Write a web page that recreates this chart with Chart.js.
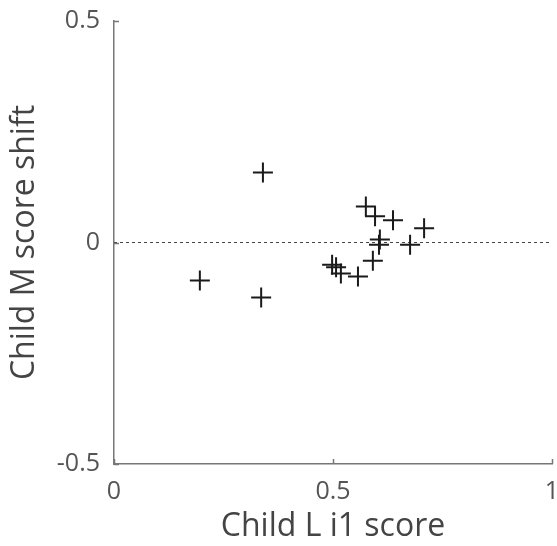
<!DOCTYPE html>
<html>
<head>
<meta charset="utf-8">
<script src="https://cdn.jsdelivr.net/npm/chart.js@4/dist/chart.umd.min.js"></script>
<style>
html,body{margin:0;padding:0;background:#fff;}
#wrap{width:557px;height:546px;position:relative;}
</style>
</head>
<body>
<div id="wrap"><canvas id="c" width="557" height="546"></canvas></div>
<script>
const xValues = [0.196, 0.340, 0.336, 0.498, 0.507, 0.518, 0.557, 0.591, 0.575, 0.596, 0.637, 0.708, 0.607, 0.605, 0.676];
const yValues = [-0.086, 0.158, -0.124, -0.050, -0.056, -0.070, -0.077, -0.041, 0.081, 0.059, 0.050, 0.032, 0.007, -0.005, -0.005];
const refLineX = [0, 1];
const refLineY = [0, 0];
const xTicks = [0, 0.5, 1];
const yTicks = [-0.5, 0, 0.5];
const xTitle = 'Child L i1 score';
const yTitle = 'Child M score shift';

const points = xValues.map((x, i) => ({x: x, y: yValues[i]}));
const ref = refLineX.map((x, i) => ({x: x, y: refLineY[i]}));

const zeroPad = s => {
  s.paddingLeft = 0; s.paddingRight = 0; s.paddingTop = 0; s.paddingBottom = 0;
};

const tickPlugin = {
  id: 'innerTicks',
  afterDraw(chart) {
    const ctx = chart.ctx;
    const xs = chart.scales.x, ys = chart.scales.y;
    const a = chart.chartArea;
    ctx.save();
    ctx.strokeStyle = '#777';
    ctx.lineWidth = 1.5;
    ctx.beginPath();
    xTicks.forEach(v => {
      const px = Math.round(xs.getPixelForValue(v)) + 0.5;
      ctx.moveTo(px, a.bottom); ctx.lineTo(px, a.bottom - 5);
    });
    yTicks.forEach(v => {
      const py = Math.round(ys.getPixelForValue(v)) + 0.5;
      ctx.moveTo(a.left, py); ctx.lineTo(a.left + 5, py);
    });
    ctx.stroke();
    ctx.restore();
  }
};

new Chart(document.getElementById('c'), {
  type: 'scatter',
  data: {
    datasets: [
      {
        data: ref,
        showLine: true,
        borderColor: '#444',
        borderWidth: 1,
        borderDash: [3, 3],
        pointRadius: 0,
        order: 2
      },
      {
        data: points,
        pointStyle: 'cross',
        pointRadius: 10,
        pointBorderWidth: 2,
        borderColor: '#1a1a1a',
        backgroundColor: '#1a1a1a',
        order: 1
      }
    ]
  },
  options: {
    responsive: false,
    animation: false,
    devicePixelRatio: 1,
    layout: {autoPadding: false, padding: {top: 21, right: 5, left: 0, bottom: 0}},
    plugins: {legend: {display: false}, tooltip: {enabled: false}},
    scales: {
      x: {
        type: 'linear',
        min: 0, max: 1,
        afterBuildTicks: s => { s.ticks = xTicks.map(v => ({value: v})); },
        afterFit: s => { s.height = 82; zeroPad(s); },
        grid: {display: false, drawTicks: false},
        border: {display: true, color: '#777', width: 1.5},
        ticks: {
          padding: 13,
          color: '#555',
          font: {family: 'Open Sans', size: 25},
          maxRotation: 0,
          callback: v => String(v)
        },
        title: {display: true, text: xTitle, color: '#444', font: {family: 'Open Sans', size: 32}, padding: {top: 0, bottom: 0}}
      },
      y: {
        type: 'linear',
        min: -0.5, max: 0.5,
        afterBuildTicks: s => { s.ticks = yTicks.map(v => ({value: v})); },
        afterFit: s => { s.width = 114; zeroPad(s); },
        grid: {display: false, drawTicks: false},
        border: {display: true, color: '#777', width: 1.5},
        ticks: {
          padding: 14,
          color: '#555',
          font: {family: 'Open Sans', size: 25},
          callback: v => String(v)
        },
        title: {display: true, text: yTitle, color: '#444', font: {family: 'Open Sans', size: 32}, padding: {top: 6, bottom: 0}}
      }
    }
  },
  plugins: [tickPlugin]
});
</script>
</body>
</html>
